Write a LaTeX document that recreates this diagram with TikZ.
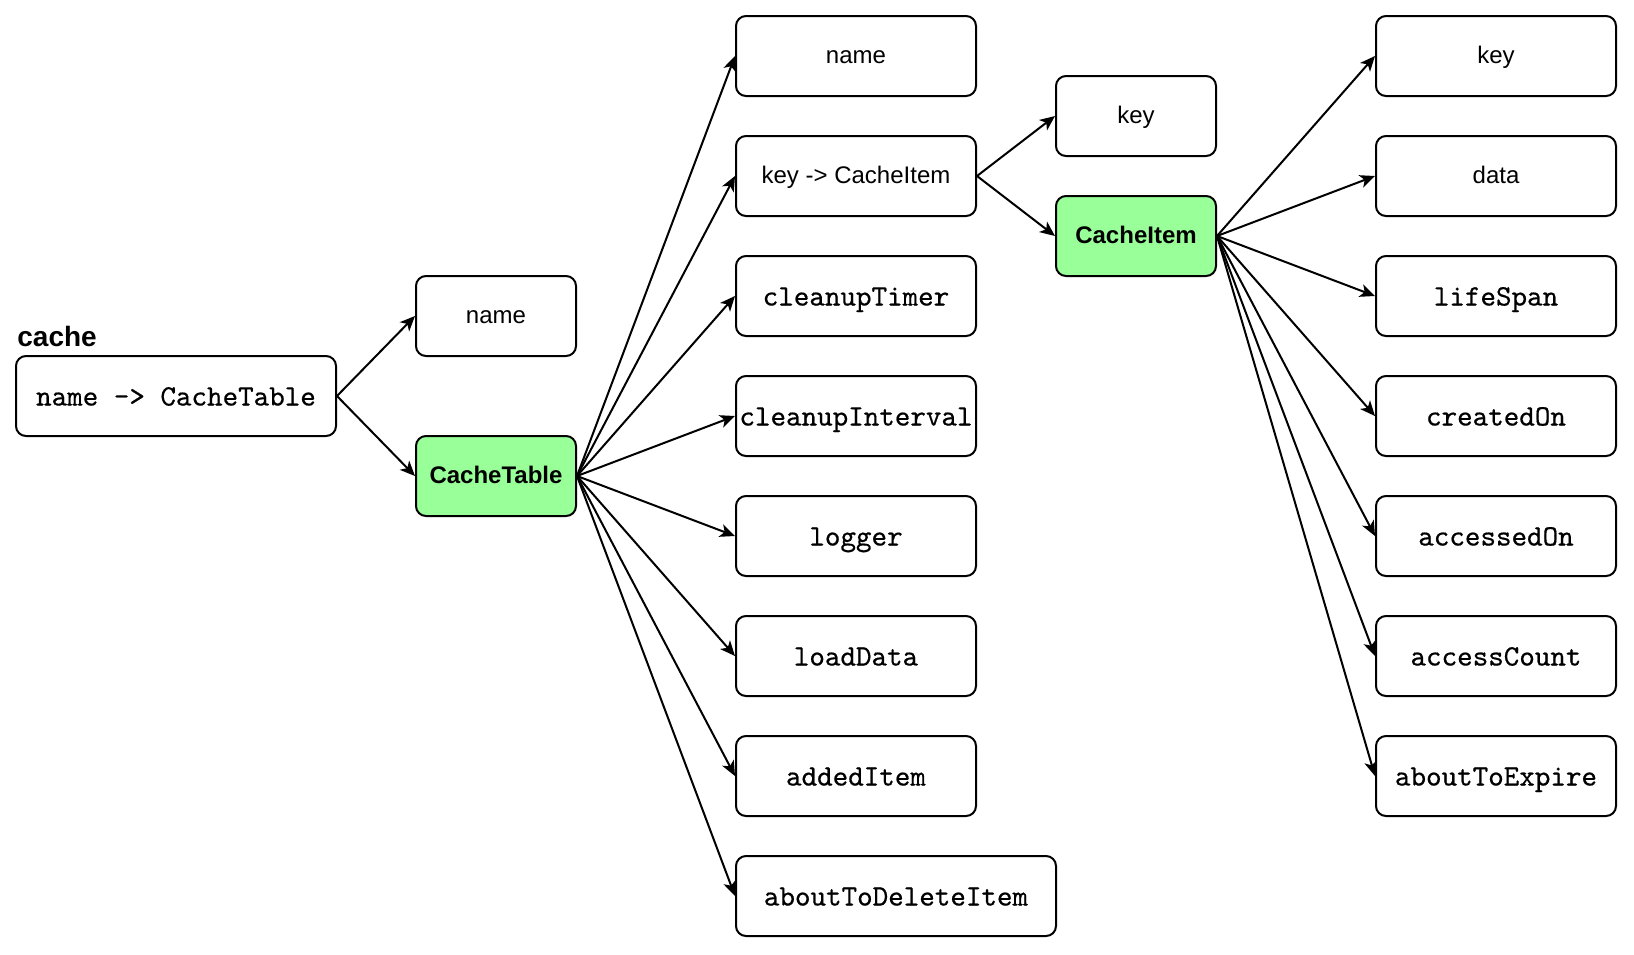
\documentclass[tikz,border=0pt]{standalone}
\usepackage{fontspec}
\setmainfont{Liberation Sans}
\newfontfamily\codefont{lmmono10-regular}[Extension=.otf,FakeBold=0.5]
\usetikzlibrary{arrows.meta}
\definecolor{leaf}{HTML}{99FF99}
\definecolor{ink}{HTML}{000000}
\tikzset{
  box/.style={draw=ink,fill=white,rounded corners=5pt,line width=1pt,inner sep=0pt,align=center,text=ink,minimum height=40pt,text height=8pt,text depth=0.7pt,font=\fontsize{12}{14}\selectfont},
  field/.style={box,minimum width=120pt},
  small/.style={box,minimum width=80pt},
  wide/.style={box,minimum width=160pt},
  code/.style={font=\codefont\fontsize{14.8}{17}\selectfont,text height=11.5pt,text depth=2pt},
  hot/.style={fill=leaf,font=\bfseries\fontsize{12}{14}\selectfont},
  arrow/.style={-{Stealth[length=7.5pt,width=6.5pt,inset=2pt]},line width=1pt,color=ink},
}
\begin{document}
\begin{tikzpicture}[x=0.5pt,y=-0.5pt]
  \fill[white] (0,0) rectangle (1634,954);
  % cache map
  \node[anchor=base west,inner sep=0pt,font=\bfseries\fontsize{14}{16}\selectfont] (lbl) at (17,346) {cache};
  \node[wide,code] (map) at (176,396) {name -> CacheTable};
  \node[small] (tname) at (496,316) {name};
  \node[small,hot] (table) at (496,476) {CacheTable};
  % CacheTable fields
  \node[field] (tf1) at (856,56) {name};
  \node[field] (tf2) at (856,176) {key -> CacheItem};
  \foreach \n/\y/\t in {3/296/cleanupTimer,4/416/cleanupInterval,5/536/logger,6/656/loadData,7/776/addedItem}
    \node[field,code] (tf\n) at (856,\y) {\t};
  \node[wide,code] (tf8) at (896,896) {aboutToDeleteItem};
  % item map
  \node[small] (ikey) at (1136,116) {key};
  \node[small,hot] (item) at (1136,236) {CacheItem};
  % CacheItem fields
  \node[field] (if1) at (1496,56) {key};
  \node[field] (if2) at (1496,176) {data};
  \foreach \n/\y/\t in {3/296/lifeSpan,4/416/createdOn,5/536/accessedOn,6/656/accessCount,7/776/aboutToExpire}
    \node[field,code] (if\n) at (1496,\y) {\t};
  % links
  \draw[arrow] (map.east) -- (tname.west);
  \draw[arrow] (map.east) -- (table.west);
  \foreach \n in {1,...,8}
    \draw[arrow] (table.east) -- (tf\n.west);
  \draw[arrow] (tf2.east) -- (ikey.west);
  \draw[arrow] (tf2.east) -- (item.west);
  \foreach \n in {1,...,7}
    \draw[arrow] (item.east) -- (if\n.west);
\end{tikzpicture}
\end{document}
